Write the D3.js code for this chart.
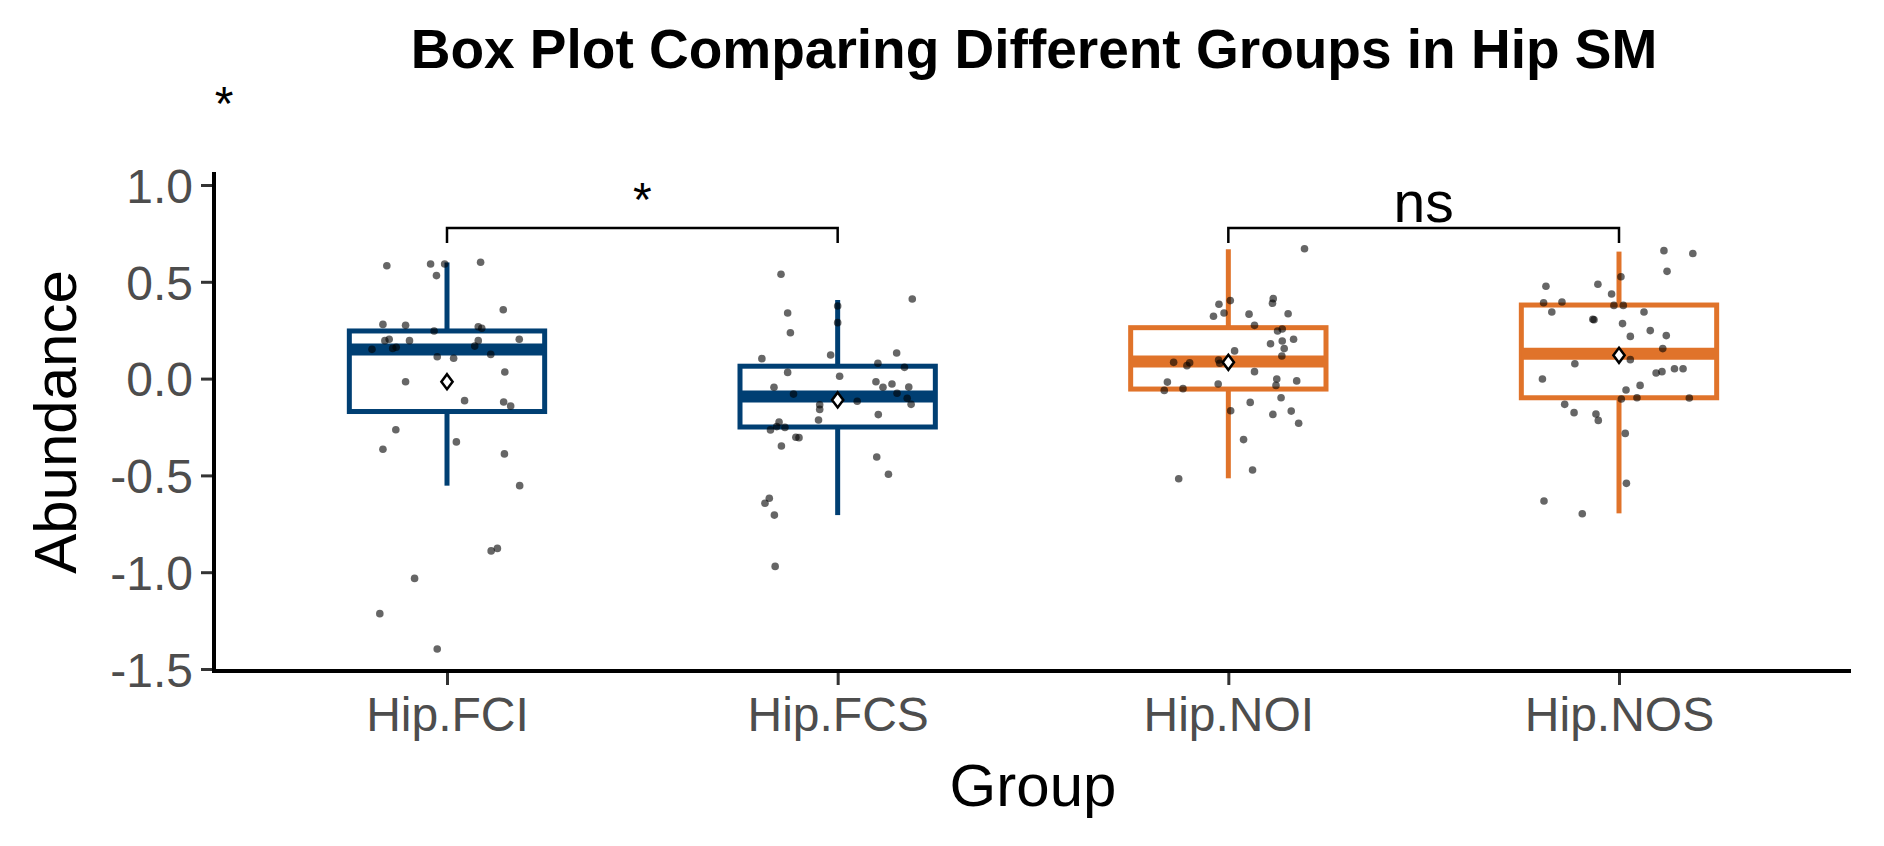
<!DOCTYPE html>
<html>
<head>
<meta charset="utf-8">
<script src="https://cdn.jsdelivr.net/npm/d3@7"></script>
<style>
  body { margin: 0; background: #fff; }
  text { font-family: "Liberation Sans", Arial, sans-serif; }
</style>
</head>
<body>
<script>
//groups and colours
var groups = ["Hip.FCI", "Hip.FCS", "Hip.NOI", "Hip.NOS"];
var groupColors = ["#003f73", "#003f73", "#e0732a", "#e0732a"];
var yTicks = [1.0, 0.5, 0.0, -0.5, -1.0, -1.5];

//box summaries
var q1 = [-0.17, -0.25, -0.054, -0.099];
var medians = [0.15, -0.092, 0.088, 0.128];
var q3 = [0.246, 0.064, 0.263, 0.38];
var whiskLo = [-0.553, -0.705, -0.515, -0.696];
var whiskHi = [0.60, 0.406, 0.668, 0.656];
var means = [-0.016, -0.11, 0.084, 0.12];

//points: value and jitter offset (fraction of group spacing)
var fciVals = [0.583,0.592,0.592,0.532,0.601,0.356,0.280,0.275,0.246,0.268,0.260,0.196,0.203,0.196,0.196,0.203,0.151,0.156,0.162,0.168,0.113,0.105,0.125,0.034,-0.016,-0.114,-0.121,-0.142,-0.264,-0.327,-0.365,-0.389,-0.553,-0.890,-0.877,-1.032,-1.214,-1.397];
var fciJit = [-0.154,-0.042,-0.006,-0.027,0.086,0.144,-0.164,-0.106,-0.033,0.080,0.089,-0.159,-0.148,-0.096,0.080,0.185,-0.192,-0.139,-0.130,0.071,-0.025,0.017,0.112,0.148,-0.106,0.045,0.145,0.163,-0.131,0.024,-0.164,0.147,0.186,0.113,0.129,-0.083,-0.172,-0.025];
var fcsVals = [0.539,0.411,0.375,0.339,0.289,0.237,0.132,0.122,0.103,0.079,0.058,0.032,0.012,-0.016,-0.028,-0.045,-0.045,-0.044,-0.080,-0.076,-0.102,-0.117,-0.133,-0.135,-0.159,-0.214,-0.186,-0.224,-0.248,-0.252,-0.265,-0.303,-0.305,-0.348,-0.405,-0.494,-0.618,-0.644,-0.705,-0.970];
var fcsJit = [-0.145,0.191,0,-0.128,0,-0.121,0.151,-0.018,-0.194,0.103,0.171,-0.128,0.005,0.098,0.139,-0.163,0.116,0.182,-0.113,0.152,0.178,0.050,0.188,-0.046,-0.046,-0.049,0.104,-0.150,-0.156,-0.135,-0.172,-0.107,-0.099,-0.144,0.100,0.130,-0.175,-0.186,-0.162,-0.160];
var noiVals = [0.671,0.403,0.384,0.413,0.389,0.339,0.322,0.333,0.335,0.275,0.256,0.246,0.203,0.180,0.194,0.143,0.155,0.117,0.084,0.082,0.067,0.096,0.079,0.036,-0.018,-0.061,-0.052,-0.028,-0.002,-0.035,-0.012,-0.099,-0.123,-0.166,-0.185,-0.168,-0.231,-0.315,-0.472,-0.517];
var noiJit = [0.195,0.005,-0.024,0.115,0.113,-0.011,-0.038,0.053,0.153,0.067,0.138,0.126,0.167,0.108,0.138,0.016,0.143,0.137,-0.140,-0.099,-0.106,-0.025,-0.022,0.067,-0.156,-0.164,-0.116,-0.026,0.124,0.122,0.175,0.135,0.056,0.006,0.114,0.161,0.180,0.039,0.062,-0.127];
var nosVals = [0.661,0.646,0.554,0.526,0.477,0.487,0.437,0.392,0.396,0.378,0.378,0.344,0.344,0.306,0.304,0.284,0.248,0.222,0.218,0.155,0.098,0.077,0.051,0.051,0.029,0.036,-0.002,-0.035,-0.059,-0.105,-0.099,-0.100,-0.133,-0.176,-0.183,-0.216,-0.283,-0.541,-0.632,-0.698];
var nosJit = [0.115,0.189,0.123,0.005,-0.187,-0.054,-0.019,-0.193,-0.146,-0.013,0.011,-0.172,0.064,-0.067,-0.064,0.009,0.080,0.121,0.029,0.112,0.029,-0.113,0.142,0.164,0.095,0.110,-0.196,0.054,0.018,0.006,0.046,0.180,-0.139,-0.115,-0.059,-0.053,0.016,0.019,-0.192,-0.094];

var allVals = [fciVals, fcsVals, noiVals, nosVals];
var allJit = [fciJit, fcsJit, noiJit, nosJit];

//significance brackets
var brackets = [
  {from: 0, to: 1, label: "*"},
  {from: 2, to: 3, label: "ns"}
];

var svgWidth = 1884, svgHeight = 846;
var svg = d3.select("body").append("svg")
  .attr("width", svgWidth)
  .attr("height", svgHeight);

var plotLeft = 214, plotRight = 1851, plotBottom = 671;

//scales
var xScale = d3.scalePoint()
  .domain(groups)
  .range([447, 1619]);
var step = xScale.step();

var yScale = d3.scaleLinear()
  .domain([-1.5, 1.0])
  .range([669, 185]);

var boxW = step * 0.5;

//boxes
groups.forEach(function(g, i) {
  var cx = xScale(g);
  var col = groupColors[i];
  var grp = svg.append("g");
  grp.append("line")
    .attr("x1", cx).attr("x2", cx)
    .attr("y1", yScale(q3[i])).attr("y2", yScale(whiskHi[i]))
    .attr("stroke", col).attr("stroke-width", 5);
  grp.append("line")
    .attr("x1", cx).attr("x2", cx)
    .attr("y1", yScale(q1[i])).attr("y2", yScale(whiskLo[i]))
    .attr("stroke", col).attr("stroke-width", 5);
  grp.append("rect")
    .attr("x", cx - boxW / 2)
    .attr("y", yScale(q3[i]))
    .attr("width", boxW)
    .attr("height", yScale(q1[i]) - yScale(q3[i]))
    .attr("fill", "#fff")
    .attr("stroke", col).attr("stroke-width", 5);
  grp.append("line")
    .attr("x1", cx - boxW / 2).attr("x2", cx + boxW / 2)
    .attr("y1", yScale(medians[i])).attr("y2", yScale(medians[i]))
    .attr("stroke", col).attr("stroke-width", 12);
});

//jittered points
groups.forEach(function(g, i) {
  svg.append("g").selectAll("circle")
    .data(allVals[i])
    .enter()
    .append("circle")
    .attr("cx", (d, j) => xScale(g) + allJit[i][j] * step)
    .attr("cy", d => yScale(d))
    .attr("r", 3.8)
    .attr("fill", "#000")
    .attr("opacity", 0.6);
});

//mean diamonds
svg.append("g").selectAll("path")
  .data(means)
  .enter()
  .append("path")
  .attr("d", (d, i) => {
    var x = xScale(groups[i]), y = yScale(d), s = 7.5;
    return `M${x},${y - s}L${x + s * 0.75},${y}L${x},${y + s}L${x - s * 0.75},${y}Z`;
  })
  .attr("fill", "#fff")
  .attr("stroke", "#000")
  .attr("stroke-width", 2.5);

//axes
var leftAxis = d3.axisLeft(yScale).tickValues(yTicks)
  .tickFormat(d => d.toFixed(1)).tickSize(13).tickPadding(8);
var yAxis = svg.append("g")
  .attr("transform", `translate(${plotLeft},0)`)
  .call(leftAxis);
yAxis.select(".domain").remove();
yAxis.append("line")
  .attr("x1", 0).attr("x2", 0)
  .attr("y1", 172).attr("y2", plotBottom + 2)
  .attr("stroke", "#000").attr("stroke-width", 4);

var bottomAxis = d3.axisBottom(xScale).tickSize(14).tickPadding(12);
var xAxis = svg.append("g")
  .attr("transform", `translate(0,${plotBottom})`)
  .call(bottomAxis);
xAxis.select(".domain").remove();
xAxis.append("line")
  .attr("x1", plotLeft - 2).attr("x2", plotRight)
  .attr("y1", 0).attr("y2", 0)
  .attr("stroke", "#000").attr("stroke-width", 4);

[yAxis, xAxis].forEach(function(ax) {
  ax.selectAll(".tick line").attr("stroke", "#333").attr("stroke-width", 3);
  ax.selectAll(".tick text")
    .attr("fill", "#4d4d4d")
    .style("font-size", "48px")
    .style("font-family", "'Liberation Sans', Arial, sans-serif");
});
yAxis.selectAll(".tick text").attr("dy", "0.36em");

//brackets
brackets.forEach(function(b) {
  var x1 = xScale(groups[b.from]), x2 = xScale(groups[b.to]);
  svg.append("path")
    .attr("d", `M${x1},243V228H${x2}V243`)
    .attr("fill", "none")
    .attr("stroke", "#000")
    .attr("stroke-width", 2.5);
  svg.append("text")
    .attr("x", (x1 + x2) / 2)
    .attr("y", b.label === "*" ? 216 : 222)
    .attr("text-anchor", "middle")
    .style("font-size", b.label === "*" ? "48px" : "57px")
    .text(b.label);
});

//stray star, top left
svg.append("text")
  .attr("x", 224).attr("y", 120)
  .attr("text-anchor", "middle")
  .style("font-size", "48px")
  .text("*");

//titles
svg.append("text")
  .attr("x", 1034).attr("y", 68)
  .attr("text-anchor", "middle")
  .style("font-size", "55px")
  .style("font-weight", "bold")
  .text("Box Plot Comparing Different Groups in Hip SM");

svg.append("text")
  .attr("x", 1033).attr("y", 806)
  .attr("text-anchor", "middle")
  .style("font-size", "60px")
  .text("Group");

svg.append("text")
  .attr("transform", "translate(76,422) rotate(-90)")
  .attr("text-anchor", "middle")
  .style("font-size", "60px")
  .text("Abundance");
</script>
</body>
</html>
